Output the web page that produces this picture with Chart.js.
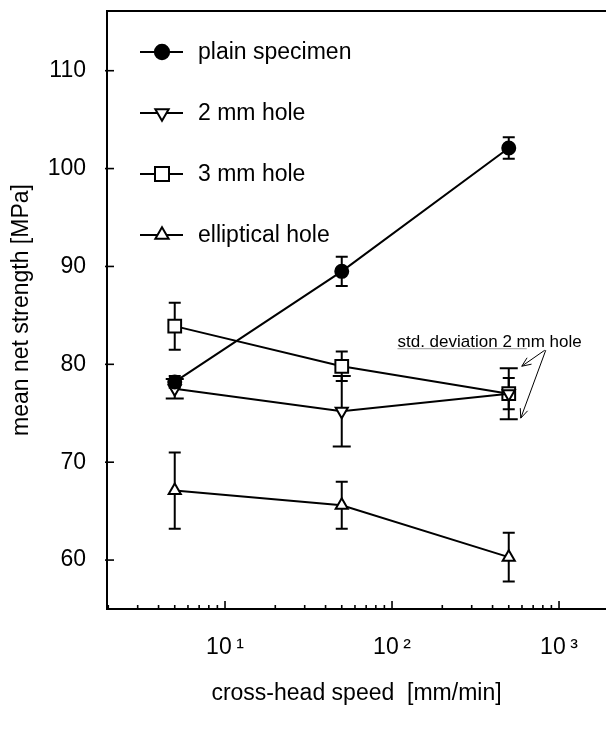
<!DOCTYPE html>
<html>
<head>
<meta charset="utf-8">
<script src="https://cdn.jsdelivr.net/npm/chart.js@4.4.0/dist/chart.umd.min.js"></script>
<style>
html,body{margin:0;padding:0;background:#fff;}
#wrap{width:606px;height:732px;position:relative;}
</style>
</head>
<body>
<div id="wrap"><canvas id="c" width="606" height="732"></canvas></div>
<script>
// ---- data ----
const speeds = [5, 50, 500];
const seriesNames = ['plain specimen', '2 mm hole', '3 mm hole', 'elliptical hole'];
const plainMean = [78.2, 89.5, 102.1];
const plainSD   = [0.6, 1.5, 1.1];
const hole2Mean = [77.5, 75.2, 77.0];
const hole2SD   = [1.0, 3.6, 2.6];
const hole3Mean = [83.9, 79.8, 77.0];
const hole3SD   = [2.4, 1.5, 1.6];
const ellipMean = [67.1, 65.6, 60.3];
const ellipSD   = [3.9, 2.4, 2.5];
const yTickValues = [60, 70, 80, 90, 100, 110];
const xTickValues = [10, 100, 1000];
const xTickLabels = ['10\u2009\u00B9', '10\u2009\u00B2', '10\u2009\u00B3'];
const xTitle = 'cross-head speed  [mm/min]';
const yTitle = 'mean net strength [MPa]';
const annotationText = 'std. deviation 2 mm hole';

const FONT = '"Liberation Sans", Arial, Helvetica, sans-serif';
const FS = 23;

function pts(means) { return speeds.map((s, i) => ({ x: s, y: means[i] })); }

function mkDs(label, means, sds, style) {
  return Object.assign({
    label, data: pts(means), sd: sds,
    borderColor: '#000', borderWidth: 2,
    pointBorderColor: '#000', pointBorderWidth: 2,
    fill: false, tension: 0
  }, style);
}

const datasets = [
  mkDs(seriesNames[0], plainMean, plainSD, { pointStyle: 'circle', pointRadius: 6.5, pointBackgroundColor: '#000', capWidth: 12 }),
  mkDs(seriesNames[1], hole2Mean, hole2SD, { pointStyle: 'triangle', pointRotation: 180, pointRadius: 7, pointBackgroundColor: '#fff', capWidth: 18 }),
  mkDs(seriesNames[2], hole3Mean, hole3SD, { pointStyle: 'rect', pointRadius: 9, pointBackgroundColor: '#fff', capWidth: 12 }),
  mkDs(seriesNames[3], ellipMean, ellipSD, { pointStyle: 'triangle', pointRadius: 7, pointBackgroundColor: '#fff', capWidth: 12 })
];

function drawMarker(ctx, ds, x, y, scale) {
  const opts = {
    pointStyle: ds.pointStyle,
    radius: ds.pointRadius * scale,
    rotation: ds.pointRotation || 0,
    borderWidth: 2
  };
  ctx.fillStyle = ds.pointBackgroundColor;
  ctx.strokeStyle = '#000';
  ctx.lineWidth = 2;
  if (Chart.helpers && Chart.helpers.drawPoint) {
    Chart.helpers.drawPoint(ctx, opts, x, y);
  }
}

// error bars, drawn under the markers
const errorBars = {
  id: 'errorBars',
  beforeDatasetsDraw(chart) {
    const { ctx, scales: { x, y } } = chart;
    ctx.save();
    ctx.strokeStyle = '#000';
    ctx.lineWidth = 2;
    chart.data.datasets.forEach(ds => {
      ds.data.forEach((p, i) => {
        const px = x.getPixelForValue(p.x);
        const yt = y.getPixelForValue(p.y + ds.sd[i]);
        const yb = y.getPixelForValue(p.y - ds.sd[i]);
        const hw = ds.capWidth / 2;
        ctx.beginPath();
        ctx.moveTo(px, yt); ctx.lineTo(px, yb);
        ctx.moveTo(px - hw, yt); ctx.lineTo(px + hw, yt);
        ctx.moveTo(px - hw, yb); ctx.lineTo(px + hw, yb);
        ctx.stroke();
      });
    });
    ctx.restore();
  }
};

// top frame line + inward tick marks
const axisDecor = {
  id: 'axisDecor',
  afterDraw(chart) {
    const { ctx, chartArea: a, scales: { x, y } } = chart;
    ctx.save();
    ctx.strokeStyle = '#000';
    ctx.lineWidth = 2;
    ctx.beginPath();
    ctx.moveTo(a.left - 1, a.top); ctx.lineTo(a.right, a.top);
    ctx.stroke();
    ctx.lineWidth = 1.6;
    yTickValues.forEach(v => {
      const py = y.getPixelForValue(v);
      ctx.beginPath(); ctx.moveTo(a.left - 2, py); ctx.lineTo(a.left + 7, py); ctx.stroke();
    });
    for (let e = 0; e <= 3; e++) {
      for (let m = 1; m <= 9; m++) {
        const v = m * Math.pow(10, e);
        if (v <= x.min || v >= x.max) continue;
        const px = x.getPixelForValue(v);
        const len = m === 1 ? 8 : 4;
        ctx.beginPath(); ctx.moveTo(px, a.bottom); ctx.lineTo(px, a.bottom - len); ctx.stroke();
      }
    }
    ctx.restore();
  }
};

// legend inside the plot area
const insideLegend = {
  id: 'insideLegend',
  afterDraw(chart) {
    const { ctx, chartArea: a } = chart;
    ctx.save();
    chart.data.datasets.forEach((ds, i) => {
      const cy = a.top + 41 + i * 61;
      const x0 = a.left + 33, x1 = a.left + 76, xm = a.left + 55;
      ctx.strokeStyle = '#000'; ctx.lineWidth = 2;
      ctx.beginPath(); ctx.moveTo(x0, cy); ctx.lineTo(x1, cy); ctx.stroke();
      drawMarker(ctx, ds, xm, cy, 1.1);
      ctx.fillStyle = '#000';
      ctx.font = FS + 'px ' + FONT;
      ctx.textAlign = 'left'; ctx.textBaseline = 'middle';
      ctx.fillText(ds.label, a.left + 91, cy + 1);
    });
    ctx.restore();
  }
};

function arrow(ctx, x1, y1, x2, y2) {
  const ang = Math.atan2(y2 - y1, x2 - x1);
  const L = 10, s = 0.4;
  ctx.beginPath();
  ctx.moveTo(x1, y1); ctx.lineTo(x2, y2);
  ctx.moveTo(x2 - L * Math.cos(ang - s), y2 - L * Math.sin(ang - s));
  ctx.lineTo(x2, y2);
  ctx.lineTo(x2 - L * Math.cos(ang + s), y2 - L * Math.sin(ang + s));
  ctx.stroke();
}

// annotation of the 2 mm hole std. deviation
const annotation = {
  id: 'annotation',
  afterDraw(chart) {
    const { ctx, scales: { x, y } } = chart;
    const i = 2;
    const px = x.getPixelForValue(speeds[i]);
    const top = y.getPixelForValue(hole2Mean[i] + hole2SD[i]);
    const bot = y.getPixelForValue(hole2Mean[i] - hole2SD[i]);
    ctx.save();
    ctx.fillStyle = '#000';
    ctx.font = '17px ' + FONT;
    ctx.textAlign = 'right'; ctx.textBaseline = 'alphabetic';
    const base = top - 21;
    ctx.fillText(annotationText, px + 73, base);
    const w = ctx.measureText(annotationText).width;
    ctx.strokeStyle = '#999'; ctx.lineWidth = 1;
    ctx.beginPath(); ctx.moveTo(px + 73 - w, base + 1.5); ctx.lineTo(px + 18, base + 1.5); ctx.stroke();
    ctx.strokeStyle = '#000'; ctx.lineWidth = 1;
    arrow(ctx, px + 36, base + 3, px + 13, top - 2);
    arrow(ctx, px + 37, base + 3, px + 12, bot - 1);
    ctx.restore();
  }
};

new Chart(document.getElementById('c'), {
  type: 'line',
  data: { datasets },
  options: {
    responsive: false,
    animation: false,
    devicePixelRatio: 1,
    layout: { autoPadding: false, padding: { top: 11, right: 0, left: 0, bottom: 0 } },
    plugins: { legend: { display: false }, tooltip: { enabled: false } },
    scales: {
      x: {
        type: 'logarithmic',
        min: 1.965, max: 1911,
        afterBuildTicks: s => { s.ticks = xTickValues.map(v => ({ value: v })); },
        afterFit: s => { s.height = 123; s.paddingLeft = 0; s.paddingRight = 0; },
        grid: { display: false, drawTicks: false },
        border: { display: true, color: '#000', width: 2 },
        ticks: {
          autoSkip: false, maxRotation: 0, minRotation: 0, padding: 25, color: '#000',
          font: { family: FONT, size: FS },
          callback: v => { const k = xTickValues.indexOf(v); return k >= 0 ? xTickLabels[k] : ''; }
        },
        title: { display: true, text: xTitle, color: '#000', font: { family: FONT, size: FS }, padding: { top: 25, bottom: 25 } }
      },
      y: {
        type: 'linear',
        min: 55, max: 116.1,
        afterBuildTicks: s => { s.ticks = yTickValues.map(v => ({ value: v })); },
        afterFit: s => { s.width = 107; s.paddingTop = 0; s.paddingBottom = 0; },
        grid: { display: false, drawTicks: false },
        border: { display: true, color: '#000', width: 2 },
        ticks: { padding: 21, color: '#000', font: { family: FONT, size: FS } },
        title: { display: true, text: yTitle, color: '#000', font: { family: FONT, size: FS }, padding: { top: 8, bottom: 8 } }
      }
    }
  },
  plugins: [errorBars, axisDecor, insideLegend, annotation]
});
</script>
</body>
</html>
